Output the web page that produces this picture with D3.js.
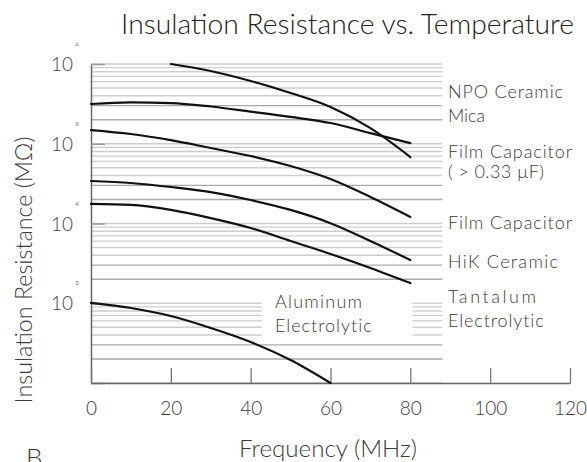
<!DOCTYPE html>
<html><head><meta charset="utf-8">
<script src="https://cdn.jsdelivr.net/npm/d3@7"></script>
<style>body{margin:0;background:#fff}</style>
</head><body><svg id="c" width="587" height="462"></svg>
<script>
// ---- data ----
const frequencies = [0, 10, 20, 30, 40, 50, 60, 70, 80];
const npoFrequencies = [20, 30, 40, 50, 60, 70, 80];
const npoCeramic = [1000000, 817000, 612000, 433000, 289000, 157000, 68200];
const mica = [315000, 330000, 324000, 293000, 253000, 217000, 182000, 136000, 102000];
const filmLarge = [148600, 132500, 111000, 88400, 70200, 52600, 36100, 21500, 12100];
const filmCapacitor = [34100, 32200, 28700, 24800, 19700, 14800, 10100, 6040, 3480];
const hikCeramic = [17600, 17100, 14800, 11700, 8790, 6040, 4150, 2770, 1790];
const aluminumFrequencies = [0, 10, 20, 30, 40, 50, 60];
const aluminum = [1010, 872, 692, 490, 327, 194, 100];
const xTicks = [0, 20, 40, 60, 80, 100, 120];
const decadeExponents = [2, 3, 4, 5, 6];
const seriesLabels = ["NPO Ceramic", "Mica", "Film Capacitor", "( > 0.33 µF)", "Film Capacitor", "HiK Ceramic", "Tantalum", "Electrolytic"];
const insideLabel = ["Aluminum", "Electrolytic"];
const titleText = "Insulation Resistance vs. Temperature";
const xTitle = "Frequency (MHz)";
const yTitle = "Insulation Resistance (MΩ)";

// ---- layout ----
const FONT = "Lato, 'Open Sans', sans-serif";
const TXT = "#3a3a3a";
const svg = d3.select("#c");
const x = d3.scaleLinear().domain([0, 120]).range([91, 570]);
const y = d3.scaleLog().domain([100, 1e6]).range([383, 64]);

function fit(sel, w) {
  const n = sel.node();
  const fs = parseFloat(sel.attr("font-size"));
  const len = n.getComputedTextLength();
  sel.attr("font-size", fs * w / len);
}
function spread(sel, w) {
  const n = sel.node();
  const len = n.getComputedTextLength();
  const chars = sel.text().length;
  sel.attr("letter-spacing", (w - len) / Math.max(1, chars - 1));
}

// grid lines
const gridEnd = 88;
const gapStart = 42.8, gapEnd = 80.5;
const grid = svg.append("g");
decadeExponents.forEach(e => {
  const mults = e === 6 ? [1] : [1,2,3,4,5,6,7,8,9];
  mults.forEach(m => {
    const v = m * Math.pow(10, e);
    const strong = (m === 2 || m === 3);
    const segs = (v >= 400 && v <= 1000) ? [[0, gapStart], [gapEnd, gridEnd]] : [[0, gridEnd]];
    segs.forEach(s => {
      grid.append("line")
        .attr("x1", x(s[0])).attr("x2", x(s[1]))
        .attr("y1", y(v)).attr("y2", y(v))
        .attr("stroke", strong ? "#a9a9a9" : "#cdcdcd")
        .attr("stroke-width", 1.3);
    });
  });
});

// decade ticks (left)
const yAxis = d3.axisLeft(y).tickValues(decadeExponents.map(e => Math.pow(10, e)))
  .tickSizeInner(-14).tickSizeOuter(0).tickFormat("");
const gy = svg.append("g").attr("transform", `translate(${x(0)},0)`).call(yAxis);
gy.select(".domain").attr("stroke", "#666").attr("stroke-width", 1.5);
gy.selectAll(".tick line").attr("stroke", "#9a9a9a").attr("stroke-width", 1.6);

// x axis
const xAxis = d3.axisBottom(x).tickValues(xTicks).tickSizeInner(-15).tickSizeOuter(0).tickPadding(19);
const gx = svg.append("g").attr("transform", `translate(0,${y(100)})`).call(xAxis);
gx.select(".domain").attr("stroke", "#666").attr("stroke-width", 1.5);
gx.selectAll(".tick line").attr("stroke", "#777").attr("stroke-width", 1.3);
gx.selectAll(".tick text").attr("font-family", FONT).attr("font-weight", 300)
  .attr("font-size", 19).attr("fill", TXT);

// y tick labels 10 with superscripts
decadeExponents.slice(1).forEach(e => {
  const yy = y(Math.pow(10, e));
  svg.append("text").attr("x", 73).attr("y", yy + 7).attr("text-anchor", "end")
    .attr("font-family", FONT).attr("font-weight", 300).attr("font-size", 19).attr("fill", "#444").text("10");
  svg.append("text").attr("x", 77).attr("y", yy - 18).attr("text-anchor", "middle")
    .attr("font-family", FONT).attr("font-size", 6).attr("fill", "#777").text(e);
});

// curves
const line = d3.line().x(d => x(d[0])).y(d => y(d[1])).curve(d3.curveMonotoneX);
const series = [
  [npoFrequencies, npoCeramic],
  [frequencies, mica],
  [frequencies, filmLarge],
  [frequencies, filmCapacitor],
  [frequencies, hikCeramic],
  [aluminumFrequencies, aluminum]
];
series.forEach(([fx, vals]) => {
  svg.append("path").datum(fx.map((f, i) => [f, vals[i]]))
    .attr("d", line).attr("fill", "none").attr("stroke", "#111")
    .attr("stroke-width", 2.2).attr("stroke-linecap", "round");
});

// right labels
const rightBaselines = [98, 122, 158, 178, 229, 268, 303, 327];
const labelWidths = [115, 37, 124, 96, 124, 110, 88, 96];
seriesLabels.forEach((t, i) => {
  const s = svg.append("text").attr("x", 448).attr("y", rightBaselines[i])
    .attr("font-family", FONT).attr("font-weight", 300).attr("font-size", 18).attr("fill", TXT).text(t);
  spread(s, labelWidths[i]);
});

// inside label
const insideBaselines = [308, 332];
const insideWidths = [87, 97];
insideLabel.forEach((t, i) => {
  const s = svg.append("text").attr("x", 275).attr("y", insideBaselines[i])
    .attr("font-family", FONT).attr("font-weight", 300).attr("font-size", 18).attr("fill", TXT).text(t);
  spread(s, insideWidths[i]);
});

// titles
const tt = svg.append("text").attr("x", 121).attr("y", 34).attr("font-family", FONT)
  .attr("font-weight", 300).attr("font-size", 26).attr("fill", "#222").text(titleText);
fit(tt, 453);
const xt = svg.append("text").attr("x", 328).attr("y", 457).attr("text-anchor", "middle")
  .attr("font-family", FONT).attr("font-weight", 300).attr("font-size", 22).attr("fill", TXT).text(xTitle);
fit(xt, 178);
const yt = svg.append("text").attr("transform", "translate(32,270) rotate(-90)")
  .attr("text-anchor", "middle").attr("font-family", FONT).attr("font-weight", 300).attr("font-size", 22)
  .attr("fill", TXT).text(yTitle);
fit(yt, 267);
svg.append("text").attr("x", 26).attr("y", 467).attr("font-family", FONT).attr("font-weight", 300)
  .attr("font-size", 26).attr("fill", TXT).text("B");
</script></body></html>
